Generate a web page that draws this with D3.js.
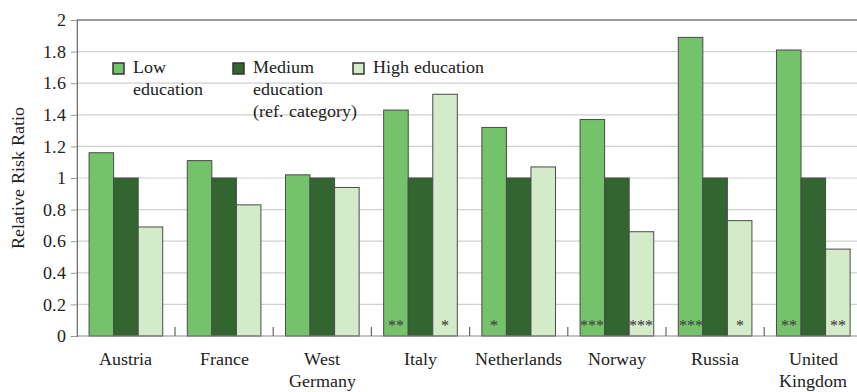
<!DOCTYPE html>
<html>
<head>
<meta charset="utf-8">
<script src="https://cdn.jsdelivr.net/npm/d3@7"></script>
<style>
  @font-face {
    font-family: "ChartSerif";
    src: local("Liberation Serif"), local("LiberationSerif-Regular"), local("LiberationSerif"),
         local("Tinos"), local("Times New Roman");
  }
  html, body { margin: 0; padding: 0; background: #fff; overflow: hidden; }
</style>
</head>
<body>
<svg id="chart" width="857" height="392"></svg>
<script>
// Countries along the x axis (label lines)
const countries = [["Austria"], ["France"], ["West", "Germany"], ["Italy"], ["Netherlands"], ["Norway"], ["Russia"], ["United", "Kingdom"]];
const seriesNames = ["Low education", "Medium education (ref. category)", "High education"];
const legendLines = [["Low", "education"], ["Medium", "education", "(ref. category)"], ["High education"]];

// Relative risk ratios per education level
const lowValues    = [1.16, 1.11, 1.02, 1.43, 1.32, 1.37, 1.89, 1.81];
const mediumValues = [1.00, 1.00, 1.00, 1.00, 1.00, 1.00, 1.00, 1.00];
const highValues   = [0.69, 0.83, 0.94, 1.53, 1.07, 0.66, 0.73, 0.55];

// Significance markers
const lowStars    = ["", "", "", "**", "*", "***", "***", "**"];
const mediumStars = ["", "", "", "", "", "", "", ""];
const highStars   = ["", "", "", "*", "", "***", "*", "**"];

const yTicks = [0, 0.2, 0.4, 0.6, 0.8, 1, 1.2, 1.4, 1.6, 1.8, 2];

const colors = ["#74c26a", "#32652f", "#d4ebca"];
const FONT = '"ChartSerif", "Liberation Serif", "DejaVu Serif", serif';
const FS = "18px";

const svg = d3.select("#chart");
const margin = { left: 76.8, top: 20, bottom: 56 };
const plotW = 98.2 * countries.length;
const plotH = 392 - margin.top - margin.bottom;

const x = d3.scaleBand().domain(d3.range(countries.length)).range([margin.left, margin.left + plotW]).paddingInner(0.25).paddingOuter(0.125);
const x1 = d3.scaleBand().domain([0, 1, 2]).range([0, x.bandwidth()]);
const y = d3.scaleLinear().domain([0, 2]).range([margin.top + plotH, margin.top]);

// Gridlines
svg.append("g").selectAll("line").data(yTicks.filter(d => d > 0 && d < 2)).join("line")
  .attr("x1", margin.left).attr("x2", margin.left + plotW)
  .attr("y1", d => y(d)).attr("y2", d => y(d))
  .attr("stroke", "#d0d0d0").attr("stroke-width", 1.2);

// Top frame line
svg.append("line").attr("x1", margin.left).attr("x2", margin.left + plotW)
  .attr("y1", y(2)).attr("y2", y(2)).attr("stroke", "#7a7a7a").attr("stroke-width", 1.6);

// Y axis
const yAxis = d3.axisLeft(y).tickValues(yTicks).tickFormat(d => d3.format("~g")(d)).tickSize(6).tickPadding(5);
const gy = svg.append("g").attr("transform", `translate(${margin.left},0)`).call(yAxis)
  .attr("font-family", null).attr("font-size", null);
gy.select(".domain").attr("stroke", "#666").attr("stroke-width", 1.2);
gy.selectAll(".tick line").attr("stroke", "#999");
gy.selectAll(".tick text").style("font-size", FS).style("font-family", FONT).attr("fill", "#222");

// Y title
svg.append("text").attr("transform", `translate(24,${y(1)}) rotate(-90)`)
  .attr("text-anchor", "middle").style("font-family", FONT).style("font-size", FS)
  .attr("fill", "#222").text("Relative Risk Ratio");

// Bars and significance markers
const series = [lowValues, mediumValues, highValues];
const stars = [lowStars, mediumStars, highStars];
series.forEach((vals, s) => {
  svg.append("g").selectAll("rect").data(vals).join("rect")
    .attr("x", (d, i) => x(i) + x1(s))
    .attr("width", x1.bandwidth())
    .attr("y", d => y(d))
    .attr("height", d => y(0) - y(d))
    .attr("fill", colors[s]).attr("stroke", "#4a4a4a").attr("stroke-width", 1);
  svg.append("g").selectAll("text").data(stars[s]).join("text")
    .attr("x", (d, i) => x(i) + x1(s) + x1.bandwidth() / 2)
    .attr("y", y(0) - 5)
    .attr("text-anchor", "middle").style("font-family", FONT).style("font-size", "16px").attr("fill", "#444")
    .text(d => d);
});

// X axis line and separator ticks
svg.append("line").attr("x1", margin.left).attr("x2", margin.left + plotW)
  .attr("y1", y(0)).attr("y2", y(0)).attr("stroke", "#888").attr("stroke-width", 1.2);
svg.append("g").selectAll("line").data(d3.range(1, countries.length)).join("line")
  .attr("x1", i => x(i) - x.step() * x.paddingInner() / 2).attr("x2", i => x(i) - x.step() * x.paddingInner() / 2)
  .attr("y1", y(0)).attr("y2", y(0) - 9).attr("stroke", "#666").attr("stroke-width", 1.2);

// X labels
const xl = svg.append("g").selectAll("text").data(countries).join("text")
  .attr("text-anchor", "middle").style("font-family", FONT).style("font-size", FS)
  .attr("fill", "#222")
  .attr("transform", (d, i) => `translate(${x(i) + x.bandwidth() / 2},${y(0) + 29})`);
xl.selectAll("tspan").data(d => d).join("tspan")
  .attr("x", 0).attr("dy", (d, j) => j === 0 ? 0 : 22).text(d => d);

// Legend
const legendX = [113, 233, 353];
legendLines.forEach((lines, s) => {
  const g = svg.append("g").attr("transform", `translate(${legendX[s]},63)`);
  g.append("rect").attr("x", 0).attr("y", 0).attr("width", 11).attr("height", 11)
    .attr("fill", colors[s]).attr("stroke", "#333").attr("stroke-width", 1.5);
  const t = g.append("text").attr("x", 20).attr("y", 10)
    .style("font-family", FONT).style("font-size", FS).attr("fill", "#222");
  t.selectAll("tspan").data(lines).join("tspan").attr("x", 20).attr("dy", (d, j) => j === 0 ? 0 : 22).text(d => d);
});
</script>
</body>
</html>
